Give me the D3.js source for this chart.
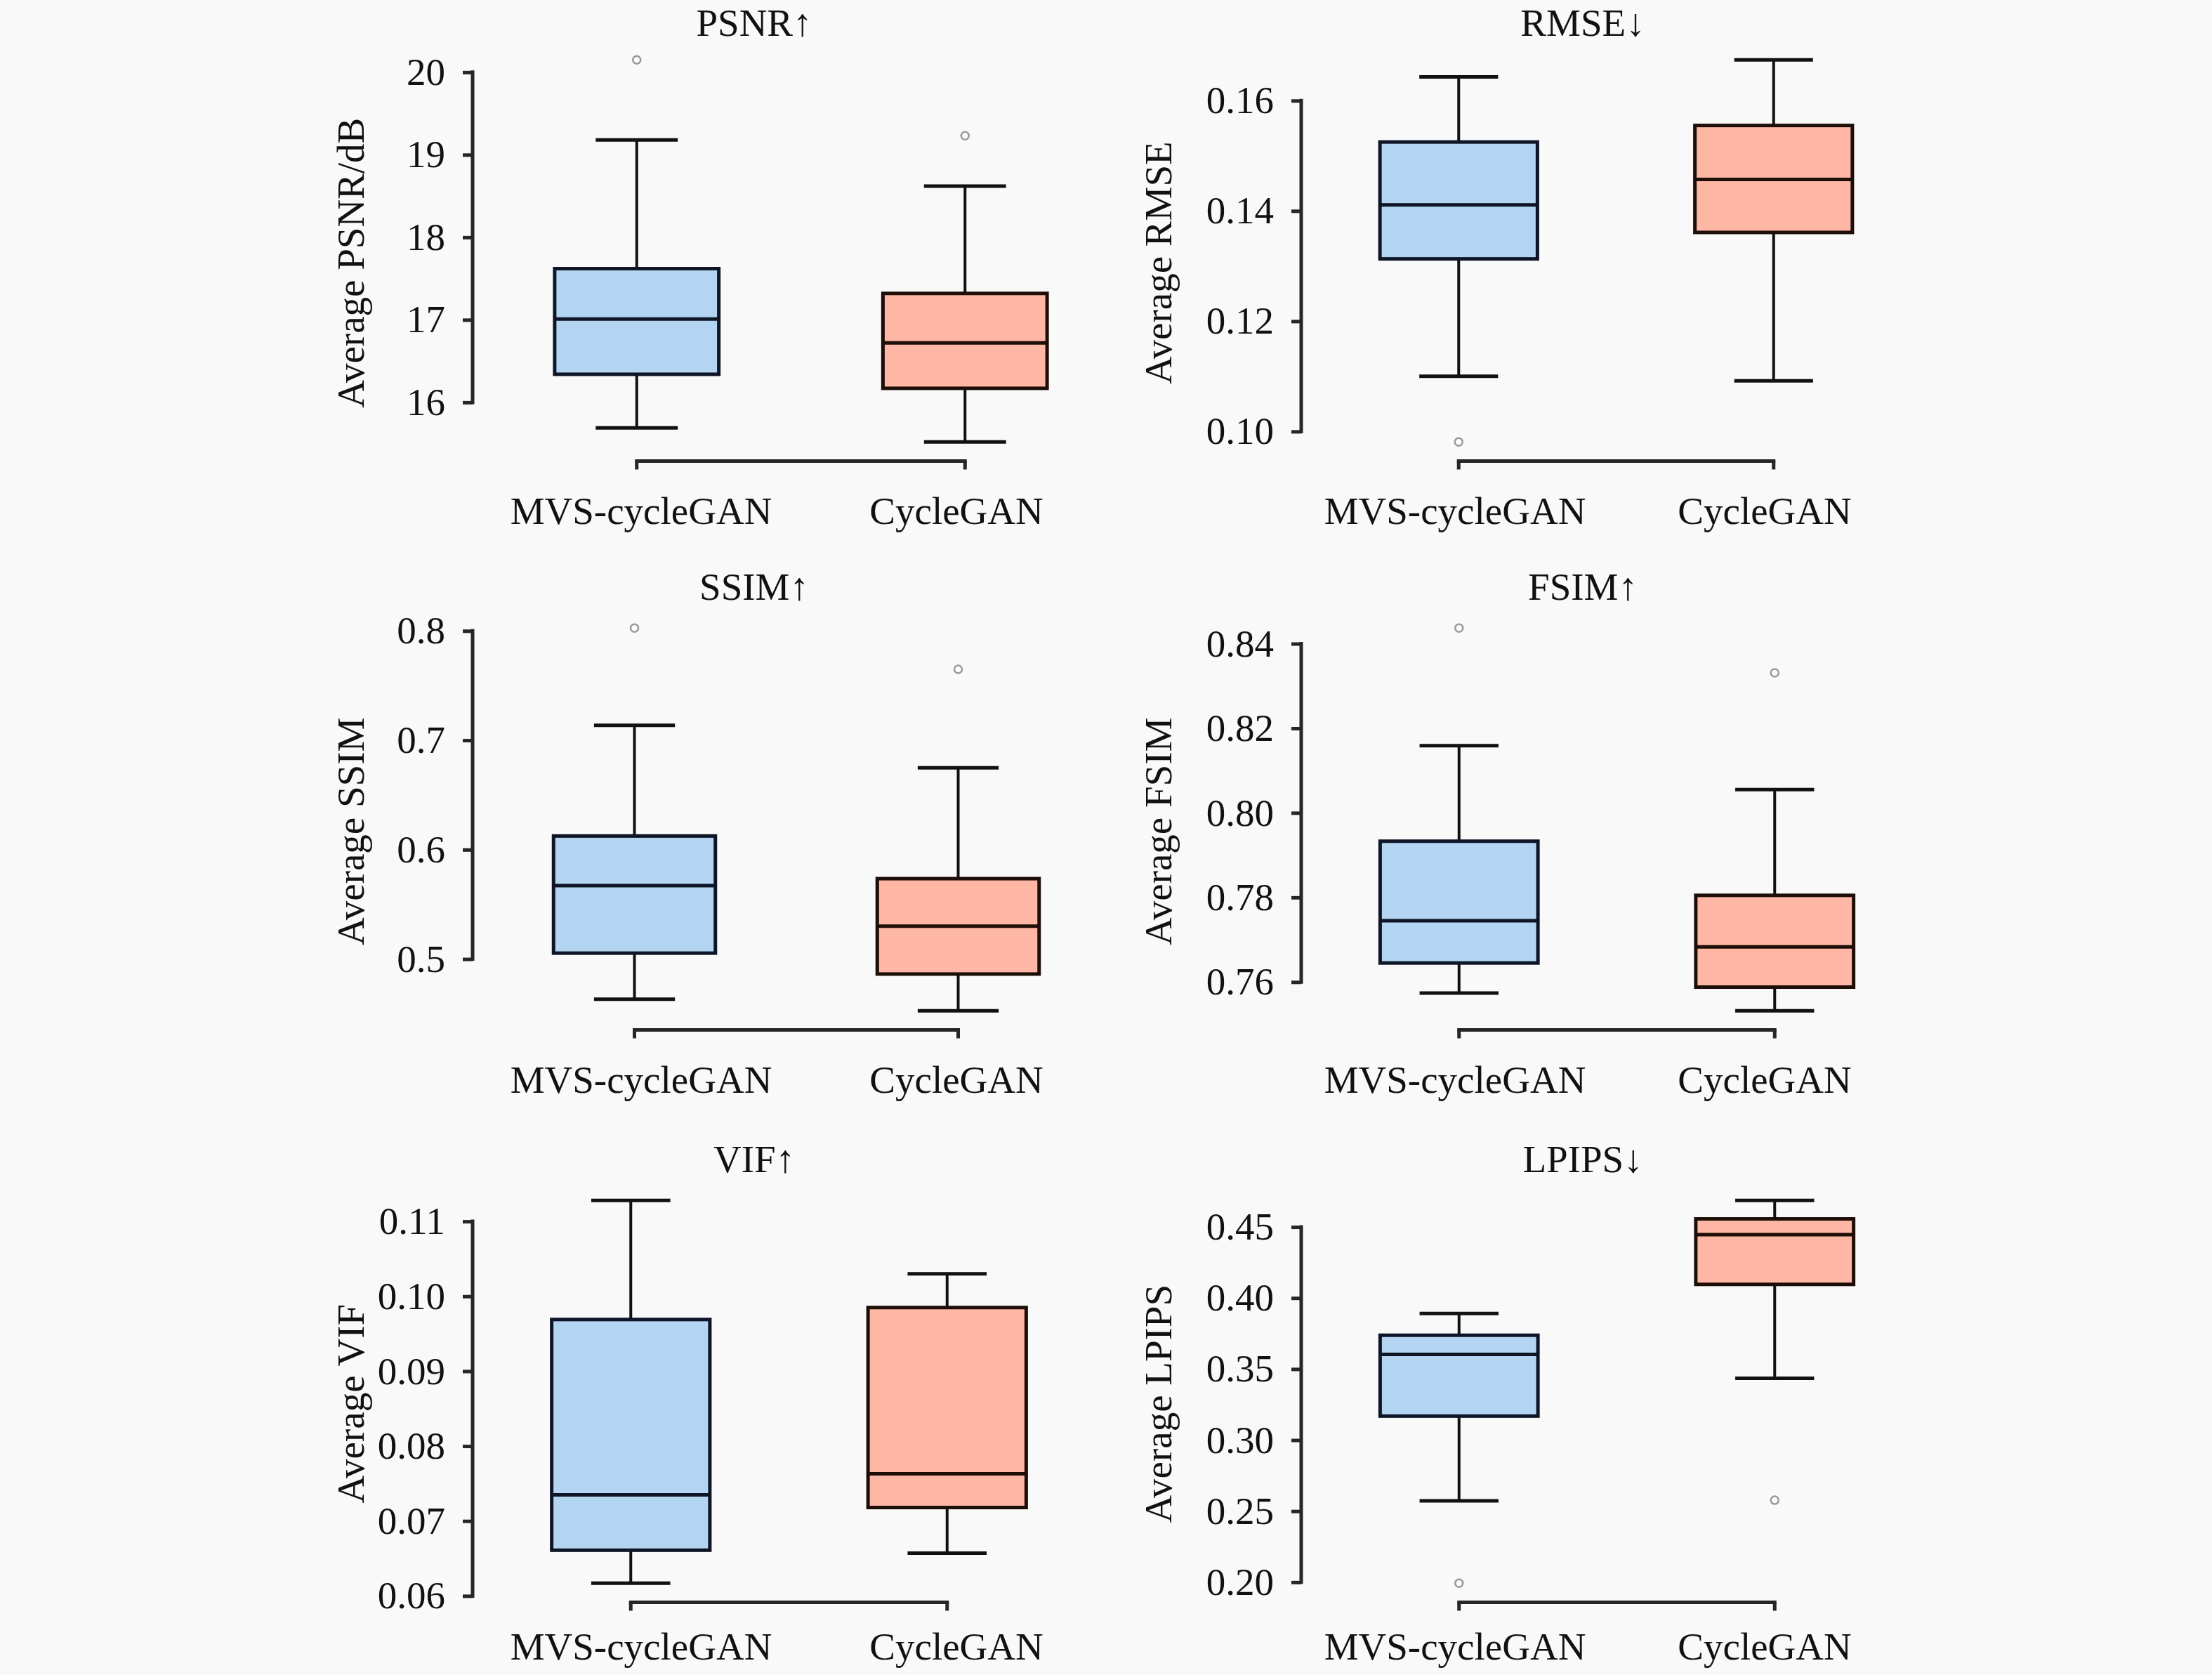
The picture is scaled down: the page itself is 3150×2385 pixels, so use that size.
<!DOCTYPE html>
<html lang="en">
<head>
<meta charset="utf-8">
<script src="https://cdn.jsdelivr.net/npm/d3@7"></script>
<style>
	body { margin: 0; background: #f9f9f9; }
	svg { display: block; }
	text { font-family: "Liberation Serif", "Times New Roman", serif; fill: #111; }
</style>
</head>
<body>
<div id="chart"></div>
<script>
// categories shared by every panel
const categories = ["MVS-cycleGAN", "CycleGAN"];
const titles = ["PSNR↑", "RMSE↓", "SSIM↑", "FSIM↑", "VIF↑", "LPIPS↓"];
const yTitles = ["Average PSNR/dB", "Average RMSE", "Average SSIM", "Average FSIM", "Average VIF", "Average LPIPS"];

// [lower whisker, Q1, median, Q3, upper whisker] per category
const psnrBoxes = [[15.69, 16.34, 17.01, 17.62, 19.18], [15.52, 16.17, 16.72, 17.32, 18.62]];
const psnrOutliers = [[20.15], [19.23]];
const psnrTicks = [16, 17, 18, 19, 20];

const rmseBoxes = [[0.1100, 0.1313, 0.1411, 0.1525, 0.1643], [0.1092, 0.1361, 0.1457, 0.1555, 0.1674]];
const rmseOutliers = [[0.0981], []];
const rmseTicks = [0.10, 0.12, 0.14, 0.16];

const ssimBoxes = [[0.4633, 0.5054, 0.5671, 0.6125, 0.7137], [0.4527, 0.4863, 0.5300, 0.5735, 0.6748]];
const ssimOutliers = [[0.8026], [0.7649]];
const ssimTicks = [0.5, 0.6, 0.7, 0.8];

const fsimBoxes = [[0.7574, 0.7645, 0.7745, 0.7933, 0.8159], [0.7532, 0.7588, 0.7683, 0.7805, 0.8055]];
const fsimOutliers = [[0.8437], [0.8331]];
const fsimTicks = [0.76, 0.78, 0.80, 0.82, 0.84];

const vifBoxes = [[0.0617, 0.0661, 0.0735, 0.0969, 0.1128], [0.0657, 0.0718, 0.0763, 0.0985, 0.1030]];
const vifOutliers = [[], []];
const vifTicks = [0.06, 0.07, 0.08, 0.09, 0.10, 0.11];

const lpipsBoxes = [[0.2572, 0.3169, 0.3603, 0.3738, 0.3891], [0.3435, 0.4096, 0.4446, 0.4557, 0.4687]];
const lpipsOutliers = [[0.1993], [0.2577]];
const lpipsTicks = [0.20, 0.25, 0.30, 0.35, 0.40, 0.45];

const panels = [
	{ boxes: psnrBoxes, outliers: psnrOutliers, ticks: psnrTicks, fmt: d3.format("d") },
	{ boxes: rmseBoxes, outliers: rmseOutliers, ticks: rmseTicks, fmt: d3.format(".2f") },
	{ boxes: ssimBoxes, outliers: ssimOutliers, ticks: ssimTicks, fmt: d3.format(".1f") },
	{ boxes: fsimBoxes, outliers: fsimOutliers, ticks: fsimTicks, fmt: d3.format(".2f") },
	{ boxes: vifBoxes, outliers: vifOutliers, ticks: vifTicks, fmt: d3.format(".2f") },
	{ boxes: lpipsBoxes, outliers: lpipsOutliers, ticks: lpipsTicks, fmt: d3.format(".2f") }
];

const W = 3150, H = 2385;
const colX = [673, 1853];
const rowTop = [58, 867, 1682];
const rowBottom = [656.5, 1466.5, 2281.5];
const panelWidth = [935, 897, 922, 899, 901, 899];
const yTitleOffset = [174, 204];
// category label centres stay put per column in the original
const labelX = [[913, 1362], [2072, 2513]];
const fills = ["#b3d5f2", "#fdb7a4"];
const edges = ["#0e1526", "#1e0e08"];
const spine = "#262626";
const fontSize = 55;

const svg = d3.select("#chart").append("svg")
	.attr("width", W)
	.attr("height", H)
	.attr("viewBox", `0 0 ${W} ${H}`);

svg.append("rect").attr("width", W).attr("height", H).attr("fill", "#f9f9f9");

panels.forEach((p, i) => {
	const col = i % 2, row = Math.floor(i / 2);
	const x0 = colX[col], top = rowTop[row], bottom = rowBottom[row];

	const x = d3.scaleBand()
		.domain(categories)
		.range([x0, x0 + panelWidth[i]]);
	const bw = x.bandwidth();
	const cx = c => x(c) + bw / 2;

	// matplotlib-like 5% margin around all values
	const all = p.boxes.flat().concat(p.outliers.flat());
	const [lo, hi] = d3.extent(all);
	const pad = (hi - lo) * 0.05;
	const y = d3.scaleLinear()
		.domain([lo - pad, hi + pad])
		.range([bottom, top]);

	const g = svg.append("g");

	// y axis, spine trimmed to first/last tick
	const ya = g.append("g")
		.attr("transform", `translate(${x0},0)`)
		.call(d3.axisLeft(y).tickValues(p.ticks).tickFormat(p.fmt).tickSize(14).tickPadding(25));
	ya.select(".domain").remove();
	ya.append("line")
		.attr("y1", y(p.ticks[0]))
		.attr("y2", y(p.ticks[p.ticks.length - 1]))
		.attr("stroke", spine)
		.attr("stroke-width", 5)
		.attr("stroke-linecap", "square");
	ya.selectAll(".tick line").attr("stroke", spine).attr("stroke-width", 5);
	ya.selectAll(".tick text").attr("font-size", fontSize);

	// x axis, spine between the two categories
	const xa = g.append("g")
		.attr("transform", `translate(0,${bottom})`)
		.call(d3.axisBottom(x).tickSize(12).tickPadding(row == 2 ? 30 : 38));
	xa.select(".domain").remove();
	xa.append("line")
		.attr("x1", cx(categories[0]))
		.attr("x2", cx(categories[1]))
		.attr("stroke", spine)
		.attr("stroke-width", 5)
		.attr("stroke-linecap", "square");
	xa.selectAll(".tick line").attr("stroke", spine).attr("stroke-width", 5);
	xa.selectAll(".tick text")
		.attr("font-size", fontSize)
		.attr("x", (c, k) => labelX[col][k] - cx(c));

	const stats = categories.map((c, k) => ({ c, k, v: p.boxes[k] }));

	// whiskers
	const wk = g.selectAll(".whisker").data(stats).enter().append("g");
	wk.append("line")
		.attr("x1", d => cx(d.c)).attr("x2", d => cx(d.c))
		.attr("y1", d => y(d.v[0])).attr("y2", d => y(d.v[4]))
		.attr("stroke", "#111").attr("stroke-width", 4);
	[0, 4].forEach(j => {
		wk.append("line")
			.attr("x1", d => cx(d.c) - bw / 8).attr("x2", d => cx(d.c) + bw / 8)
			.attr("y1", d => y(d.v[j])).attr("y2", d => y(d.v[j]))
			.attr("stroke", "#111").attr("stroke-width", 5);
	});

	// boxes
	g.selectAll(".box").data(stats).enter().append("rect")
		.attr("x", d => cx(d.c) - bw / 4)
		.attr("width", bw / 2)
		.attr("y", d => y(d.v[3]))
		.attr("height", d => y(d.v[1]) - y(d.v[3]))
		.attr("fill", d => fills[d.k])
		.attr("stroke", d => edges[d.k])
		.attr("stroke-width", 5);

	// medians
	g.selectAll(".median").data(stats).enter().append("line")
		.attr("x1", d => cx(d.c) - bw / 4).attr("x2", d => cx(d.c) + bw / 4)
		.attr("y1", d => y(d.v[2])).attr("y2", d => y(d.v[2]))
		.attr("stroke", d => edges[d.k])
		.attr("stroke-width", 5);

	// outliers
	const fl = categories.flatMap((c, k) => p.outliers[k].map(v => ({ c, v })));
	g.selectAll(".flier").data(fl).enter().append("circle")
		.attr("cx", d => cx(d.c))
		.attr("cy", d => y(d.v))
		.attr("r", 5.5)
		.attr("fill", "#fdfdfd")
		.attr("stroke", "#999")
		.attr("stroke-width", 2.5);

	// titles
	g.append("text")
		.attr("x", x0 + 401)
		.attr("y", Math.max(top - 13, 51))
		.attr("text-anchor", "middle")
		.attr("font-size", fontSize)
		.text(titles[i]);

	g.append("text")
		.attr("transform", `translate(${x0 - yTitleOffset[col]},${(top + bottom) / 2 + 17}) rotate(-90)`)
		.attr("text-anchor", "middle")
		.attr("dominant-baseline", "central")
		.attr("font-size", fontSize)
		.text(yTitles[i]);
});
</script>
</body>
</html>
